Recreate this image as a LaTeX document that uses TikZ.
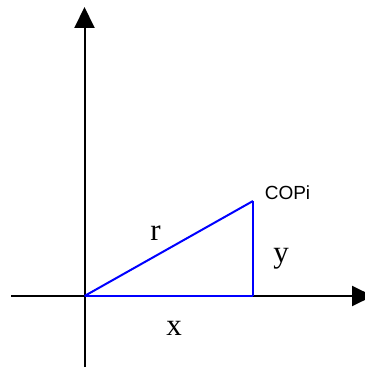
\documentclass[tikz,border=0pt]{standalone}
\usepackage{fontspec}
\setmainfont{Liberation Serif}
\newfontfamily\copifont{Liberation Sans}
\usepackage{tikz}
\usetikzlibrary{arrows.meta,positioning}
\usepackage{xcolor}
\definecolor{cpblue}{RGB}{0,0,255}
\tikzset{
  axisline/.style={line width=2pt,draw=black},
  axisarrow/.style={axisline,-{Triangle[length=21pt,width=20pt]}},
  sideline/.style={line width=2pt,draw=cpblue},
  sidelabel/.style={font=\fontsize{31}{33}\selectfont,inner sep=0pt,anchor=base},
  pointlabel/.style={font=\copifont\fontsize{19}{21}\selectfont,inner sep=0pt,anchor=base}
}

\begin{document}
\begin{tikzpicture}[x=1pt,y=-1pt]
  \useasboundingbox (0,0) rectangle (364,369);
  \coordinate (o) at (84.5,296);
  \coordinate (copi) at (253,201);
  \coordinate (foot) at (253,296);
  \coordinate (xl) at (11,296);
  \coordinate (xr) at (373,296);
  \coordinate (yb) at (84.5,367);
  \coordinate (yt) at (84.5,7);
  \draw[axisarrow] (xl) -- (xr);
  \draw[axisarrow] (yb) -- (yt);
  \draw[sideline] (o) -- (copi);
  \draw[sideline] (copi) -- (foot);
  \draw[sideline] (o) -- (foot);
  \node[sidelabel] (rlbl) at (155.5,240) {r};
  \node[sidelabel] (ylbl) at (281,262) {y};
  \node[sidelabel] (xlbl) at (174,335) {x};
  \node[pointlabel] (copilbl) at (287.5,199.5) {COPi};
\end{tikzpicture}
\end{document}
